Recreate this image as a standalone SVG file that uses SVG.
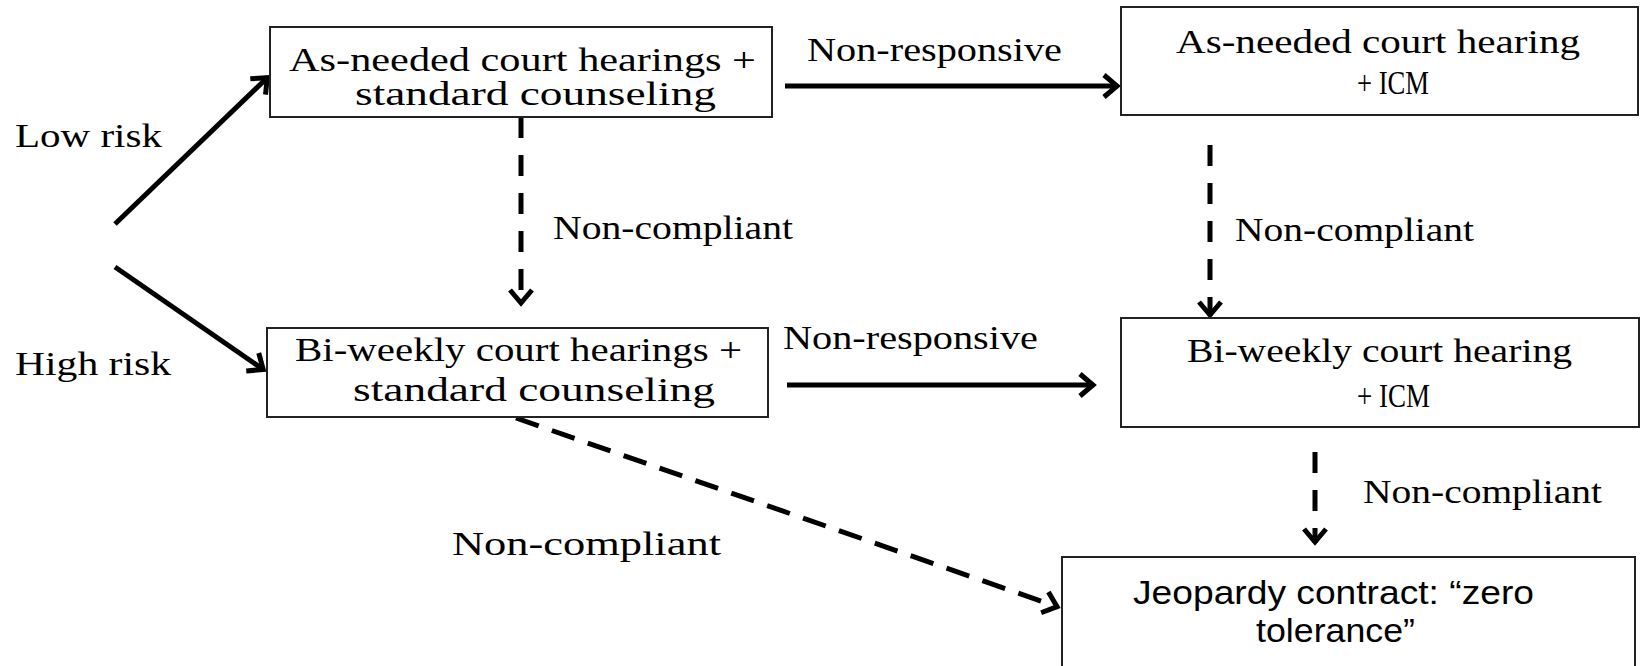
<svg xmlns="http://www.w3.org/2000/svg" width="1641" height="666" viewBox="0 0 1641 666">
<defs>
<marker id="ah" markerWidth="30" markerHeight="30" refX="20" refY="15" orient="auto" markerUnits="userSpaceOnUse">
<path d="M6,4 L19,15 L6,26" fill="none" stroke="#000" stroke-width="5" stroke-linejoin="miter"/>
</marker>
<style>
.box{fill:#fff;stroke:#222;stroke-width:2}
.t{font-family:"Liberation Serif","Times New Roman",serif;font-size:33px;fill:#000}
.s{font-family:"Liberation Sans",Arial,sans-serif;font-size:33px;fill:#000}
.c{fill:none;stroke:#000;stroke-width:5}
.d{stroke-dasharray:21 17}
</style>
</defs>
<rect width="1641" height="666" fill="#fff"/>
<g id="connectors">
<line class="c" x1="115" y1="224" x2="268" y2="77" marker-end="url(#ah)"/>
<line class="c" x1="115" y1="267" x2="264" y2="370" marker-end="url(#ah)"/>
<line class="c" x1="785" y1="86" x2="1118" y2="86" marker-end="url(#ah)"/>
<line class="c" x1="787" y1="385" x2="1094" y2="385" marker-end="url(#ah)"/>
<line class="c d" x1="521" y1="117" x2="521" y2="304" marker-end="url(#ah)"/>
<line class="c d" x1="1210" y1="145" x2="1210" y2="316" marker-end="url(#ah)"/>
<line class="c d" x1="1315" y1="452" x2="1315" y2="543" marker-end="url(#ah)"/>
<line class="c" style="stroke-dasharray:24 14" x1="516" y1="418" x2="1058" y2="607" marker-end="url(#ah)"/>
<text class="t" x="807" y="61" textLength="255" lengthAdjust="spacingAndGlyphs">Non-responsive</text>
<text class="t" x="783" y="349" textLength="255" lengthAdjust="spacingAndGlyphs">Non-responsive</text>
<text class="t" x="553" y="239" textLength="240" lengthAdjust="spacingAndGlyphs">Non-compliant</text>
<text class="t" x="1235" y="241" textLength="239" lengthAdjust="spacingAndGlyphs">Non-compliant</text>
<text class="t" x="1363" y="503" textLength="239" lengthAdjust="spacingAndGlyphs">Non-compliant</text>
<text class="t" x="452" y="555" textLength="269" lengthAdjust="spacingAndGlyphs">Non-compliant</text>
</g>
<g id="labels">
<text class="t" x="15" y="147" textLength="147" lengthAdjust="spacingAndGlyphs">Low risk</text>
<text class="t" x="15" y="375" textLength="156" lengthAdjust="spacingAndGlyphs">High risk</text>
</g>
<g id="node1">
<rect class="box" x="270" y="27" width="502" height="90"/>
<text class="t" x="289" y="71" textLength="467" lengthAdjust="spacingAndGlyphs">As-needed court hearings +</text>
<text class="t" x="355" y="105" textLength="361" lengthAdjust="spacingAndGlyphs">standard counseling</text>
</g>
<g id="node2">
<rect class="box" x="1121" y="7" width="517" height="108"/>
<text class="t" x="1176" y="53" textLength="404" lengthAdjust="spacingAndGlyphs">As-needed court hearing</text>
<text class="t" x="1357" y="94" textLength="72" lengthAdjust="spacingAndGlyphs">+ ICM</text>
</g>
<g id="node3">
<rect class="box" x="267" y="328" width="501" height="89"/>
<text class="t" x="295" y="361" textLength="447" lengthAdjust="spacingAndGlyphs">Bi-weekly court hearings +</text>
<text class="t" x="353" y="401" textLength="362" lengthAdjust="spacingAndGlyphs">standard counseling</text>
</g>
<g id="node4">
<rect class="box" x="1121" y="318" width="518" height="109"/>
<text class="t" x="1187" y="362" textLength="385" lengthAdjust="spacingAndGlyphs">Bi-weekly court hearing</text>
<text class="t" x="1357" y="407" textLength="73" lengthAdjust="spacingAndGlyphs">+ ICM</text>
</g>
<g id="node5">
<rect class="box" x="1062" y="557" width="573" height="120"/>
<text class="s" x="1133" y="604" textLength="401" lengthAdjust="spacingAndGlyphs">Jeopardy contract: “zero</text>
<text class="s" x="1256" y="642" textLength="159" lengthAdjust="spacingAndGlyphs">tolerance”</text>
</g>
</svg>
